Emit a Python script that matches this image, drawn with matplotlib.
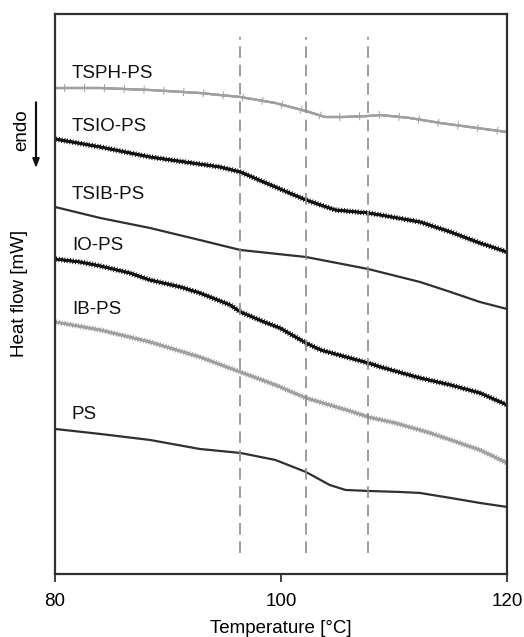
import numpy as np
import matplotlib
matplotlib.use("Agg")
import matplotlib.pyplot as plt
from matplotlib import patheffects as pe

plt.rcParams['font.family'] = ['Liberation Sans', 'DejaVu Sans']

# DSC curves, heat flow in arbitrary offset units (endo down)
tsphT = [80, 84, 88.4, 92.8, 96.4, 99.5, 102.2, 103.9, 105.5, 107.7, 108.8, 111.4, 114.1, 116.7, 120]
tsphY = [48.6, 48.6, 48.4, 48.1, 47.7, 47.1, 46.3, 45.7, 45.7, 45.8, 45.9, 45.6, 45.1, 44.7, 44.2]

tsioT = [80, 84, 88.4, 94.6, 96.4, 99.5, 102.2, 104.8, 107.7, 108.8, 112.3, 115.0, 117.6, 120]
tsioY = [43.5, 42.7, 41.7, 40.7, 40.2, 38.7, 37.4, 36.4, 36.1, 35.9, 35.2, 34.2, 33.1, 32.2]

tsibT = [80, 84, 88.4, 92.8, 96.4, 102.2, 107.7, 112.3, 115.0, 117.6, 120]
tsibY = [36.7, 35.6, 34.6, 33.4, 32.4, 31.7, 30.5, 29.2, 28.2, 27.2, 26.5]

ioT = [80, 82.2, 84, 86.6, 88.4, 91.1, 92.8, 95.5, 96.4, 98.3, 99.9, 102.2, 103.5, 107.7, 108.8, 112.3, 115.0, 117.6, 120]
ioY = [31.5, 31.2, 30.8, 30.1, 29.4, 28.7, 28.1, 26.9, 26.2, 25.3, 24.6, 23.1, 22.4, 21.1, 20.7, 19.6, 18.9, 18.1, 16.9]

ibT = [80, 84, 88.4, 92.8, 96.4, 99.5, 102.2, 106.1, 107.7, 110.1, 113.2, 115.8, 117.6, 120]
ibY = [25.2, 24.4, 23.2, 21.7, 20.2, 18.9, 17.6, 16.3, 15.7, 15.1, 14.1, 13.1, 12.4, 11.1]

psT = [80, 84, 88.4, 92.8, 96.4, 99.5, 102.2, 104.3, 105.7, 107.7, 110.5, 112.3, 115.0, 117.6, 120]
psY = [14.5, 14.0, 13.4, 12.5, 12.1, 11.4, 10.2, 8.9, 8.4, 8.3, 8.2, 8.1, 7.6, 7.1, 6.7]

names = ["TSPH-PS", "TSIO-PS", "TSIB-PS", "IO-PS", "IB-PS", "PS"]
labelY = [50.1, 44.7, 37.9, 32.8, 26.4, 15.9]
glassT = [96.4, 102.2, 107.7]

fig = plt.figure(figsize=(5.24, 6.37), dpi=100)
ax = fig.add_axes([0.105, 0.099, 0.8626, 0.879])

gray = '#a0a0a0'
dark = '#303030'
black = '#111111'

def hairy(spacing=2.0, length=0.8):
  # short noise ticks on both sides of the trace
  return [pe.withTickedStroke(spacing=spacing, angle=90, length=length, linewidth=0.7),
          pe.withTickedStroke(spacing=spacing, angle=-90, length=length, linewidth=0.7),
          pe.Normal()]

ax.plot(tsphT, tsphY, color=gray, lw=1.6, path_effects=hairy(14, 0.18))
ax.plot(tsioT, tsioY, color=black, lw=1.8, path_effects=hairy())
ax.plot(tsibT, tsibY, color=dark, lw=1.6)
ax.plot(ioT, ioY, color=black, lw=1.8, path_effects=hairy())
ax.plot(ibT, ibY, color=gray, lw=1.8, path_effects=hairy())
ax.plot(psT, psY, color=dark, lw=1.6)

for t in glassT:
  ax.plot([t, t], [2.1, 53.7], color='#8c8c8c', lw=1.2, dashes=(7, 4))

for n, y in zip(names, labelY):
  ax.text(81.5, y, n, fontsize=13.5, ha='left', va='center', color='#111111')

ax.set_xlim(80, 120)
ax.set_ylim(0, 56)
ax.set_xticks([80, 100, 120])
ax.set_yticks([])
ax.tick_params(axis='x', direction='out', length=6, width=1.3, color=dark, labelsize=13.5, pad=8)
for s in ax.spines.values():
  s.set_linewidth(1.6)
  s.set_color(dark)
ax.set_xlabel('Temperature [°C]', fontsize=13.5, labelpad=7)

# y label and endo arrow
fig.text(20/524, 1 - 293/637, 'Heat flow [mW]', rotation=90, ha='center', va='center', fontsize=13.5)
fig.text(22/524, 1 - 130/637, 'endo', rotation=90, ha='center', va='center', fontsize=13.5)
fig.patches.append(matplotlib.patches.FancyArrow(36/524, 1 - 102/637, 0, -64/637, width=0.0015,
                   head_width=0.012, head_length=0.013, length_includes_head=True,
                   color=black, transform=fig.transFigure))

fig.savefig('out.png', dpi=100)
